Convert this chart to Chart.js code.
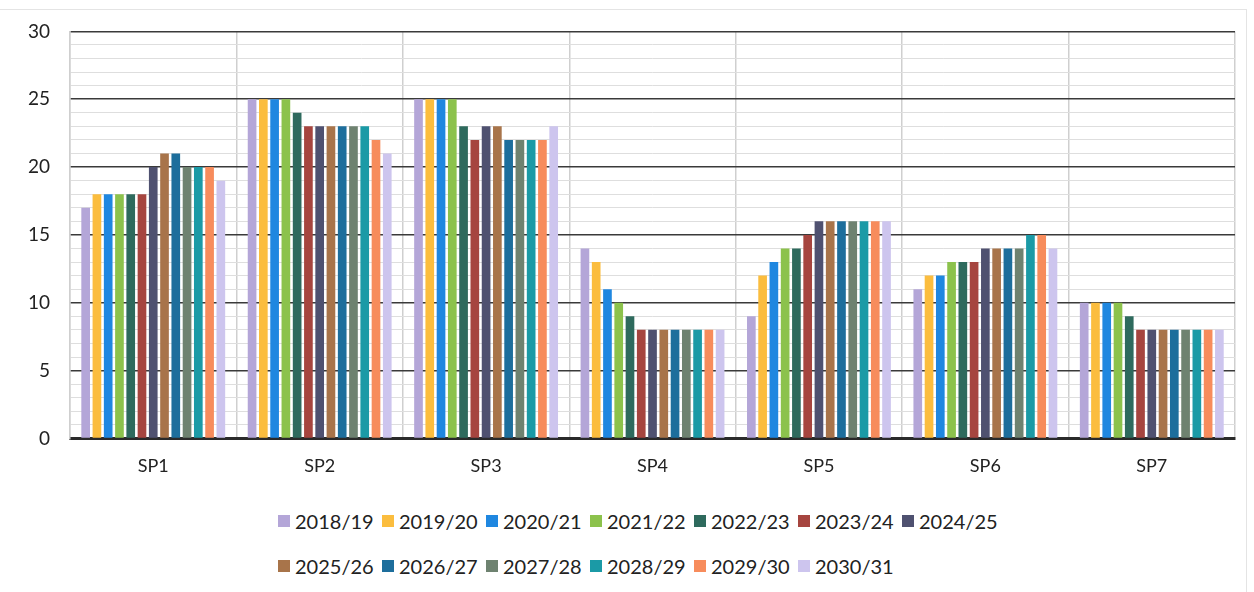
<!DOCTYPE html>
<html>
<head>
<meta charset="utf-8">
<script src="https://cdn.jsdelivr.net/npm/chart.js@4/dist/chart.umd.min.js"></script>
<style>
  html, body { margin: 0; padding: 0; background: #fff; }
  body { width: 1254px; height: 592px; position: relative; overflow: hidden; font-family: Lato, "Open Sans", sans-serif; }
  #frame { position: absolute; left: -2px; top: 9px; width: 1248px; height: 600px; border-top: 1px solid #e4e4e4; border-right: 1px solid #e4e4e4; }
  #wrap { position: absolute; left: 0; top: 0; width: 1254px; height: 494px; }
  #legend { position: absolute; left: 278px; top: 498px; width: 740px; color: #222; font-size: 20px; }
  .row { display: flex; justify-content: flex-start; height: 45px; align-items: center; }
  .item { display: flex; align-items: center; width: 104px; }
  .box { width: 12px; height: 12px; margin-right: 5px; }
</style>
</head>
<body>
<div id="frame"></div>
<div id="wrap"><canvas id="chart"></canvas></div>
<div id="legend"></div>
<script>
const categories = ['SP1', 'SP2', 'SP3', 'SP4', 'SP5', 'SP6', 'SP7'];
const years = ['2018/19', '2019/20', '2020/21', '2021/22', '2022/23', '2023/24', '2024/25',
               '2025/26', '2026/27', '2027/28', '2028/29', '2029/30', '2030/31'];

// one array per year, values for SP1..SP7
const v2018 = [17, 25, 25, 14, 9, 11, 10];
const v2019 = [18, 25, 25, 13, 12, 12, 10];
const v2020 = [18, 25, 25, 11, 13, 12, 10];
const v2021 = [18, 25, 25, 10, 14, 13, 10];
const v2022 = [18, 24, 23, 9, 14, 13, 9];
const v2023 = [18, 23, 22, 8, 15, 13, 8];
const v2024 = [20, 23, 23, 8, 16, 14, 8];
const v2025 = [21, 23, 23, 8, 16, 14, 8];
const v2026 = [21, 23, 22, 8, 16, 14, 8];
const v2027 = [20, 23, 22, 8, 16, 14, 8];
const v2028 = [20, 23, 22, 8, 16, 15, 8];
const v2029 = [20, 22, 22, 8, 16, 15, 8];
const v2030 = [19, 21, 23, 8, 16, 14, 8];
const seriesValues = [v2018, v2019, v2020, v2021, v2022, v2023, v2024, v2025, v2026, v2027, v2028, v2029, v2030];

const colors = ['#b4a6d8', '#fbbd3e', '#1f87e0', '#8cc24c', '#2e6a5d', '#a6453f', '#4f5170',
                '#a8744a', '#1d6e9c', '#6e8270', '#1b9aa6', '#f78c5c', '#cdc5ee'];

const datasets = years.map((y, i) => ({
  label: y,
  data: seriesValues[i],
  backgroundColor: colors[i],
  barPercentage: 0.77,
  categoryPercentage: 0.88
}));

const chart = new Chart(document.getElementById('chart'), {
  type: 'bar',
  data: { labels: categories, datasets: datasets },
  options: {
    responsive: true,
    maintainAspectRatio: false,
    animation: false,
    layout: { padding: { top: 29, right: 19, left: 8, bottom: 0 } },
    plugins: { legend: { display: false }, tooltip: { enabled: false } },
    scales: {
      x: {
        grid: { color: '#cfcfcf', lineWidth: 1.5, drawTicks: false, offset: true },
        border: { color: '#2a2a2a', width: 3 },
        ticks: { color: '#222', font: { family: 'Lato', size: 18 }, padding: 17 }
      },
      y: {
        min: 0, max: 30,
        grid: {
          drawTicks: false,
          color: ctx => ctx.tick.value % 5 === 0 ? '#3a3a3a' : '#dedede',
          lineWidth: ctx => ctx.tick.value % 5 === 0 ? 1.5 : 1
        },
        border: { color: '#cfcfcf', width: 1.5 },
        ticks: {
          stepSize: 1,
          autoSkip: false,
          color: '#222',
          font: { family: 'Lato', size: 19 },
          padding: 20,
          callback: v => v % 5 === 0 ? String(v) : ''
        }
      }
    }
  }
});

// legend in two rows under the chart, items on a fixed column grid
const legend = document.getElementById('legend');
[years.slice(0, 7), years.slice(7)].forEach((rowYears, r) => {
  const row = document.createElement('div');
  row.className = 'row';
  rowYears.forEach((y, j) => {
    const idx = r * 7 + j;
    const item = document.createElement('div');
    item.className = 'item';
    const box = document.createElement('span');
    box.className = 'box';
    box.style.background = colors[idx];
    const txt = document.createElement('span');
    txt.textContent = y;
    item.appendChild(box);
    item.appendChild(txt);
    row.appendChild(item);
  });
  legend.appendChild(row);
});
</script>
</body>
</html>
